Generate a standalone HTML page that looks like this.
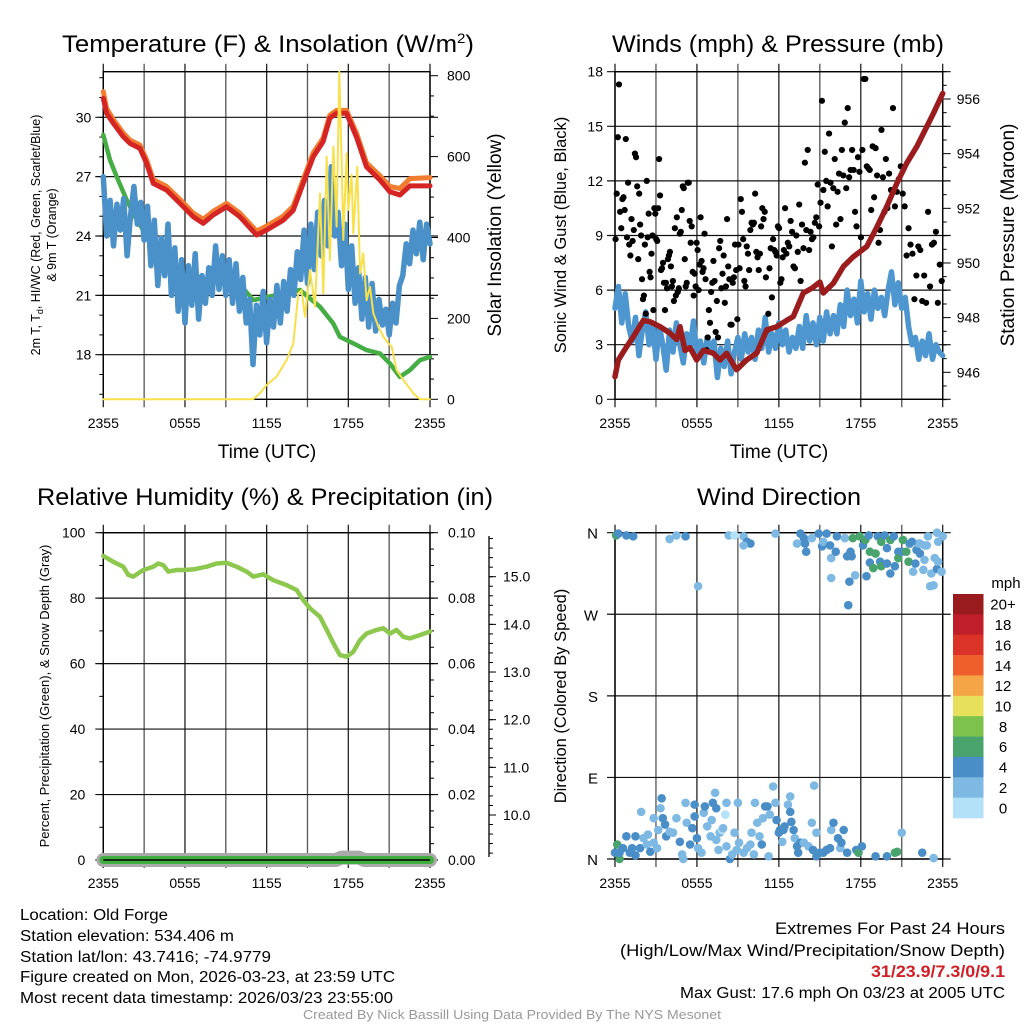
<!DOCTYPE html>
<html><head><meta charset="utf-8"><style>
html,body{margin:0;padding:0;background:#fff;}
svg{display:block;font-family:"Liberation Sans",Arial,sans-serif;}
</style></head><body>
<svg id="fig" width="1024" height="1024" viewBox="0 0 1024 1024"></svg>
<script>
// ---------- DATA ----------
// time is an index of 5-minute steps from 2355 (0) to 2355 next day (288)
const xTickLabels = ["2355","0555","1155","1755","2355"];
const tempT = [0,2.9,8.8,17.6,23.5,32.3,38.2,44.1,55.8,67.6,79.3,88.1,96.9,108.7,120.4,135.1,143.9,158.6,167.4,176.2,185,193.8,199.7,205.6,214.4,223.2,232,243.8,252.6,261.5,270.3,288];
const tempV = [30.96,30.2,29.7,29.02,28.68,28.43,27.67,26.66,26.32,25.65,24.97,24.64,25.06,25.48,24.97,24.05,24.3,24.8,25.3,26.66,28.0,28.77,29.95,30.2,30.2,29.0,27.5,26.83,26.24,26.07,26.53,26.53];
const temp9V = [31.3,30.45,29.9,29.2,28.85,28.6,27.85,26.85,26.5,25.85,25.15,24.85,25.25,25.65,25.15,24.25,24.5,25.0,25.5,26.85,28.2,28.95,30.1,30.35,30.35,29.2,27.7,27.05,26.5,26.4,26.9,26.95];
const dewT = [0,5.9,11.8,20.6,29.4,41.1,49.9,58.8,73.5,85.2,91.1,99.9,114.6,132.2,173.4,191,202.7,208.6,220.4,232.1,243.9,252.7,261.5,270.3,279.1,288];
const dewV = [29.11,27.84,27.0,25.82,24.81,23.79,23.29,22.78,21.77,21.94,21.77,22.78,21.94,20.76,21.27,20.42,19.58,18.9,18.57,18.23,18.06,17.55,16.88,17.22,17.72,17.89];
const chillStep = 3;
const chillV = [27.0,24.0,25.8,23.5,25.6,24.3,25.9,23.0,25.0,26.5,24.6,25.7,23.8,25.5,22.5,24.8,21.5,23.9,22.0,24.6,21.0,23.4,20.2,22.8,19.6,22.5,20.5,23.1,19.8,22.0,20.6,22.4,21.0,23.5,21.3,23.0,21.0,22.8,20.6,22.6,20.2,21.9,19.6,20.8,17.5,20.5,19.0,21.2,18.6,20.8,19.4,21.5,19.6,21.7,20.2,22.3,21.0,23.2,21.8,24.3,21.6,24.6,22.3,25.2,23.0,25.8,23.5,27.5,24.0,25.2,22.5,24.6,21.3,23.5,20.6,22.4,19.8,21.9,19.4,21.6,19.2,20.8,19.5,20.3,19.0,20.6,19.6,21.5,22.0,23.6,22.6,24.3,23.1,24.7,22.8,24.6,23.6];
const solarT = [0,132,138.1,143.9,152.8,161.6,167.5,171.9,174.8,177.8,182.2,186.6,191,193.9,196.9,199.8,202.8,205.7,208,210.1,211.6,214.5,216,218.9,220.4,223.9,226.3,229.2,232.1,235.1,238,242.4,246.8,251.3,254.2,258.6,264.5,273.3,279.2,288];
const solarV = [0,0,15,35,56,97,138,262,270,204,320,229,509,262,600,344,625,427,810,592,394,608,468,555,410,575,311,361,245,278,213,180,155,138,130,72,48,15,0,0];

const presT = [0,2.9,10.3,16.1,24.9,30.8,39.6,48.3,54.2,57.1,61.5,65.9,71.8,77.6,86.4,92.3,98.1,106.9,115.7,124.5,133.3,142.1,150.9,156.7,165.5,172.8,180.1,183.1,191.9,200.7,209.5,221.2,230,238.8,247.6,256.4,265.2,274,279.9,288];
const presV = [945.84,946.45,946.94,947.3,947.9,947.85,947.67,947.43,947.2,947.67,946.8,946.9,946.45,946.8,946.7,946.45,946.7,946.09,946.45,946.7,947.55,947.67,947.9,948.04,948.9,949.07,949.3,948.9,949.26,949.87,950.23,950.6,951.3,952.06,952.9,953.65,954.26,954.99,955.48,956.2];
const windStep = 3;
const windV = [5.0,6.2,4.2,5.8,4.0,3.2,4.5,2.4,3.8,4.8,3.0,4.2,2.2,4.0,3.0,1.6,3.8,2.6,4.2,3.0,2.0,3.6,2.8,4.3,2.4,3.2,2.0,3.4,2.6,3.2,1.2,2.8,1.8,3.2,1.4,2.6,3.4,2.2,3.6,2.6,3.4,2.2,3.8,2.8,4.5,2.6,3.6,2.8,4.2,3.0,3.8,2.6,3.4,2.8,4.0,2.8,4.6,3.2,4.2,3.0,4.5,3.2,4.8,3.6,4.6,3.6,5.2,4.0,6.0,4.6,5.5,4.2,6.5,4.8,5.8,4.4,6.0,5.0,5.6,4.6,6.0,7.0,5.2,6.4,5.0,5.6,4.0,3.0,3.4,2.2,3.2,2.4,3.6,2.2,3.0,2.6,2.4];
const gustStart = [0,20,40,80,110,150,200,240];
const gustEnd = [20,40,80,110,150,200,240,288];
const gustVals = [
 [8.8,11.3,14.4,17.3,10.3,9.4,11.0,11.1,10.4,14.3,8.9,11.9,8.5,7.9,9.9,8.7,9.3,13.5,13.3,11.7],
 [7.7,11.3,9.6,9.0,6.6,5.5,5.7,8.5,4.7,12.0,8.9,10.2,7.0,6.7,8.0,9.0,4.9,10.5,10.2,8.8,8.7,10.5,13.2,11.2],
 [7.1,7.2,7.5,6.4,4.9,6.4,6.1,7.7,7.9,8.1,7.3,6.2,6.5,5.4,9.4,5.7,10.0,5.9,6.1,9.1,9.2,10.4,11.7,11.6,7.7,6.2,6.4,11.9,11.9,9.8,8.6,9.5,7.0,5.7,6.9,6.2,8.6,8.2,6.0,7.4,10.0,7.6,7.0,7.2,9.1,6.6],
 [2.7,3.4,4.9,4.2,5.9,6.4,7.6,6.5,3.7,5.4,3.4,8.3,8.7,6.1,6.9,7.9,5.3,6.2,9.9,7.3,6.6,4.1,4.1,6.4,6.7,8.5,7.1,4.4,8.5,7.2],
 [11.0,10.3,8.8,6.5,6.2,8.4,8.0,7.1,9.3,9.7,9.6,9.7,11.3,8.1,7.8,7.1,8.0,9.5,10.5,9.9,10.3,6.7,3.8,4.7,7.2,8.3,5.6,8.8,8.2,8.1,7.9,9.5,9.4,6.4,6.6,7.8,8.2,10.5],
 [8.0,8.6,8.4,9.8,9.2,7.3,7.2,9.0,8.1,10.7,6.5,9.6,8.3,13.0,9.3,13.7,8.2,9.2,8.8,8.9,9.7,10.0,11.8,9.5,10.8,16.4,11.5,13.6,12.0,10.6,14.6,11.9,8.4,11.6,13.2,9.6,11.4,12.4,9.9,13.7],
 [12.3,15.2,11.6,16.0,12.2,12.6,13.7,12.6,10.3,9.5,13.3,12.5,8.9,13.7,17.6,17.6,12.8,12.7,12.6,10.4,13.9,11.1,13.8,12.3,8.6,9.3,14.8,12.2,10.3,13.2,10.5],
 [12.4,11.5,16.0,10.6,11.4,12.1,12.8,11.3,10.6,7.9,9.4,8.5,8.0,5.5,6.8,8.4,8.2,5.4,6.8,5.3,10.3,6.2,8.5,8.6,9.2,5.3,7.4,6.5]
];

const rhT = [0,8.8,17.6,22,26.4,35.3,44.1,48.5,52.9,57.3,64.7,70.5,79.3,91.1,99.9,108.7,117.5,126.3,132.2,141,149.9,161.6,170.4,176.3,182.2,191,196.9,202.8,208.6,214.5,220.4,226.3,232.1,241,246.8,252.7,258.6,264.5,270.3,279.1,288];
const rhV = [92.9,91.1,89.6,87.1,86.6,88.6,89.6,90.6,90.1,88.1,88.6,88.6,88.8,89.6,90.6,90.8,89.6,88.1,86.6,87.3,85.5,84.0,82.5,79.4,76.9,74.3,70.3,66.2,62.6,62.1,63.6,67.2,69.2,70.3,70.8,69.2,70.3,68.2,67.7,68.7,69.8];
const precipT = [0,288];
const precipV = [0,0];
const snowT = [0,205,210,218,225,230,288];
const snowV = [9.07,9.07,9.12,9.12,9.12,9.07,9.07];

const dirT = [1,3,10,16,48,54,62,73,100,105,113,116,119,113,141,160,163,166,167,168,173,179,182,183,186,189,190,190,195,194,202,204,207,208,206,205,211,209,215,218,220,223,221,224,224,227,229,231,233,234,234,237,239,239,242,242,245,246,249,249,252,253,256,258,259,262,264,265,267,268,271,272,274,275,277,278,280,281,283,284,284,283,287,288,261,268,272,
0,2,4,4,7,10,13,15,18,18,22,23,25,28,29,31,34,37,34,38,40,41,42,44,45,48,51,54,57,59,60,62,63,66,68,70,70,72,73,76,78,79,81,84,85,86,88,89,89,91,92,94,95,97,98,98,101,103,105,107,108,109,113,116,119,120,122,123,125,127,129,130,132,134,135,136,139,141,142,144,145,147,148,149,152,154,154,155,157,158,160,161,163,166,170,173,174,175,177,177,180,183,186,189,190,192,196,198,199,201,204,212,214,217,229,239,246,248,252,270,280];
const dirDeg = [357,359,357,356,353,357,356,301,357,357,356,350,348,346,359,348,359,354,348,339,354,359,345,350,359,346,332,310,356,339,354,334,339,334,306,280,313,354,356,346,352,357,312,339,327,321,337,356,328,323,350,357,343,326,352,315,356,323,339,332,339,352,339,328,348,317,326,341,348,337,319,330,346,356,301,315,302,332,320,350,328,360,317,356,350,348,346,
7,16,0,7,12,25,7,12,25,4,12,52,23,16,27,8,18,12,45,32,56,67,45,38,25,30,29,45,19,5,0,62,40,16,34,60,47,23,12,7,51,58,36,25,43,62,73,56,21,10,29,32,34,49,62,14,0,5,29,10,62,18,7,12,16,29,5,62,40,25,16,45,58,58,3,49,80,62,43,29,32,19,32,36,60,69,52,41,32,23,14,7,18,18,14,40,10,81,29,3,7,7,10,12,32,40,23,12,18,32,7,10,7,14,3,3,7,8,29,7,1];
const dirSpd = [7,5,5,5,3,3,5,3,3,1,3,5,5,3,3,3,5,5,5,5,3,5,5,3,5,5,3,3,5,5,3,5,5,5,5,5,3,7,7,5,7,5,5,7,5,7,7,5,5,7,7,5,5,5,7,5,5,5,5,7,5,7,7,7,5,3,5,5,3,5,3,3,3,3,3,3,3,3,5,3,3,3,3,3,5,3,3,
5,7,7,5,5,5,5,5,5,5,5,3,3,3,3,5,3,3,3,3,3,5,5,5,5,3,3,3,5,3,3,3,3,5,5,5,5,5,3,3,3,5,3,3,3,5,3,5,3,3,3,1,3,1,3,3,5,3,3,3,3,3,3,3,3,3,3,3,3,3,5,3,5,5,3,3,3,3,5,5,5,3,5,5,3,3,5,5,5,3,5,5,5,3,3,3,5,3,3,5,5,5,5,5,3,5,5,3,5,5,5,5,7,5,5,5,7,7,3,5,3];
const cbLabels = ["20+","18","16","14","12","10","8","6","4","2","0"];
const cbColors = ["#9a1b1e","#bf1e2a","#dc3328","#ef5f2c","#f5a545","#e6e05b","#7cc24b","#48a46c","#4a8ec8","#7db9e3","#b3e1f7"];

// ---------- RENDER ----------
const NS = "http://www.w3.org/2000/svg";
const svg = document.getElementById("fig");
function el(tag, attrs, parent) {
  const e = document.createElementNS(NS, tag);
  for (const k in attrs) e.setAttribute(k, attrs[k]);
  (parent || svg).appendChild(e);
  return e;
}
function txt(s, x, y, size, anchor, parent, extra) {
  const t = el("text", Object.assign({x:x, y:y, "font-size":size, "text-anchor":anchor||"middle", fill:"#000"}, extra||{}), parent);
  t.textContent = s;
  return t;
}
function lin(a, b, c, d) { return v => c + (v - a) / (b - a) * (d - c); }
function pathFrom(ts, vs, xs, ys) {
  return vs.map((v, i) => (i ? "L" : "M") + xs(ts[i]).toFixed(1) + "," + ys(v).toFixed(1)).join("");
}
function panel(name) {
  const g = el("g", {});
  
  
  return g;
}
function frameAndGrid(g, x0, x1, y0, y1, hy) {
  for (let i = 0; i <= 8; i++) {
    const x = x0 + (x1 - x0) * i / 8;
    el("line", {x1:x, y1:y0 - 8, x2:x, y2:y1 + 8, stroke: i%2 ? "#555" : "#222", "stroke-width":1.3}, g);
  }
  hy.forEach(y => el("line", {x1:x0 - 8, y1:y, x2:x1 + 8, y2:y, stroke:"#111", "stroke-width":1.2}, g));
  el("rect", {x:x0, y:y0, width:x1 - x0, height:y1 - y0, fill:"none", stroke:"#000", "stroke-width":1.4}, g);
}
function xTicks(g, x0, x1, y) {
  xTickLabels.forEach((s, i) => {
    const t = txt(s, x0 + (x1 - x0) * i / 4, y, 14, "middle", g);
    
    
  });
}
function poly(g, d, color, w, name) {
  const p = el("path", {d:d, fill:"none", stroke:color, "stroke-width":w, "stroke-linejoin":"round", "stroke-linecap":"round"}, g);
  
  
  return p;
}

// ---- Panel 1: temperature ----
(function(){
  const x0=103.3, x1=430, y0=71.7, y1=399.3;
  const g = panel("temperature-panel");
  const xs = lin(0, 288, x0, x1);
  const ys = lin(18, 30, 354.7, 117.3);
  const ysol = lin(0, 800, 399.3, 75.7);
  const ticksT = [18,21,24,27,30];
  frameAndGrid(g, x0, x1, y0, y1, ticksT.map(ys));
  for (let v = 16; v <= 32; v++) el("line", {x1:x0-4, y1:ys(v), x2:x0, y2:ys(v), stroke:"#000"}, g);
  ticksT.forEach(v => { const t = txt(String(v), x0 - 12, ys(v) + 5, 14, "end", g);   });
  for (let v = 0; v <= 800; v += 50) el("line", {x1:x1, y1:ysol(v), x2:x1 + (v%200?4:8), y2:ysol(v), stroke:"#000"}, g);
  [0,200,400,600,800].forEach(v => { const t = txt(String(v), x1 + 17, ysol(v) + 5, 14, "start", g);   });
  xTicks(g, x0, x1, 428);
  const chillT = chillV.map((v, i) => i * chillStep);
  poly(g, pathFrom(dewT, dewV, xs, ys), "#44ad44", 4.5, "dewpoint-line");
  poly(g, pathFrom(chillT, chillV, xs, ys), "#4a90c9", 5.5, "windchill-line");
  poly(g, pathFrom(tempT, temp9V, xs, ys), "#f27d30", 5, "temp-9m-line");
  poly(g, pathFrom(tempT, tempV, xs, ys), "#d42424", 5, "temp-2m-line");
  poly(g, pathFrom(solarT, solarV, xs, ysol), "#f7e04b", 2, "solar-line");
  const t1 = el("text", {x:62, y:52, "font-size":24, "text-anchor":"start", textLength:412, lengthAdjust:"spacingAndGlyphs"}, g);
  t1.innerHTML = 'Temperature (F) &amp; Insolation (W/m<tspan dy="-9" font-size="14">2</tspan><tspan dy="9">)</tspan>';
   
  const xl = txt("Time (UTC)", 267, 458, 19, "middle", g);  
  const yl = el("text", {transform:"translate(40,235) rotate(-90)", "font-size":12.5, "text-anchor":"middle"}, g);
  yl.innerHTML = '2m T, T<tspan dy="3" font-size="9">d</tspan><tspan dy="-3">, HI/WC (Red, Green, Scarlet/Blue)</tspan>';
   
  const yl2 = txt("& 9m T (Orange)", 0, 0, 12.5, "middle", g, {transform:"translate(56,235) rotate(-90)"});  
  const yr = txt("Solar Insolation (Yellow)", 0, 0, 19, "middle", g, {transform:"translate(501,235) rotate(-90)"});  
})();

// ---- Panel 2: winds & pressure ----
(function(){
  const x0=615, x1=942.7, y0=71.7, y1=399.3;
  const g = panel("winds-panel");
  const xs = lin(0, 288, x0, x1);
  const ys = lin(0, 18, 399.3, 71.7);
  const yp = lin(946, 956, 372.3, 99);
  const ticks = [0,3,6,9,12,15,18];
  frameAndGrid(g, x0, x1, y0, y1, ticks.map(ys));
  ticks.forEach(v => { const t = txt(String(v), x0 - 12, ys(v) + 5, 14, "end", g);   });
  for (let v = 945; v <= 957; v += 0.5) el("line", {x1:x1, y1:yp(v), x2:x1 + (v%2===0?8:4), y2:yp(v), stroke:"#000"}, g);
  [946,948,950,952,954,956].forEach(v => { const t = txt(String(v), x1 + 14, yp(v) + 5, 14, "start", g);   });
  xTicks(g, x0, x1, 428);
  const wT = windV.map((v, i) => i * windStep);
  poly(g, pathFrom(wT, windV, xs, ys), "#4d96d0", 5.5, "sonic-wind-line");
  gustVals.forEach((arr, s) => {
    arr.forEach((v, i) => {
      const t = gustStart[s] + (gustEnd[s] - gustStart[s]) * (i + 0.5) / arr.length;
      const c = el("circle", {cx:xs(t), cy:ys(v), r:3.1, fill:"#000"}, g);
      
      
    });
  });
  poly(g, pathFrom(presT, presV, xs, yp), "#9b1c1c", 5.5, "pressure-line");
  const t1 = txt("Winds (mph) & Pressure (mb)", 612, 52, 24, "start", g, {textLength:332, lengthAdjust:"spacingAndGlyphs"});  
  const xl = txt("Time (UTC)", 779, 458, 19, "middle", g);  
  const yl = txt("Sonic Wind & Gust (Blue, Black)", 0, 0, 16.5, "middle", g, {transform:"translate(566,235) rotate(-90)"});  
  const yr = txt("Station Pressure (Maroon)", 0, 0, 19, "middle", g, {transform:"translate(1014,235) rotate(-90)"});  
})();

// ---- Panel 3: RH & precipitation ----
(function(){
  const x0=103.3, x1=430, y0=532.7, y1=860;
  const g = panel("humidity-panel");
  const xs = lin(0, 288, x0, x1);
  const ys = lin(0, 100, 860, 532.7);
  const ypr = lin(0, 0.1, 860, 532.7);
  const ysn = lin(10, 15, 815, 576.7);
  const ticks = [0,20,40,60,80,100];
  frameAndGrid(g, x0, x1, y0, y1, ticks.map(ys));
  for (let v = 0; v <= 100; v += 10) el("line", {x1:x0-4, y1:ys(v), x2:x0, y2:ys(v), stroke:"#000"}, g);
  ticks.forEach(v => { const t = txt(String(v), x0 - 18, ys(v) + 5, 14, "end", g);   });
  for (let i = 0; i <= 20; i++) el("line", {x1:x1, y1:ypr(i*0.005), x2:x1 + 4, y2:ypr(i*0.005), stroke:"#000"}, g);
  [0,0.02,0.04,0.06,0.08,0.1].forEach(v => { const t = txt(v.toFixed(2), x1 + 18, ypr(v) + 5, 14, "start", g);   });
  el("line", {x1:489, y1:536, x2:489, y2:857, stroke:"#000", "stroke-width":1.3}, g);
  for (let v = 9.2; v <= 15.9; v += 0.2) el("line", {x1:489, y1:ysn(v), x2:493, y2:ysn(v), stroke:"#000"}, g);
  [10,11,12,13,14,15].forEach(v => {
    el("line", {x1:489, y1:ysn(v), x2:496, y2:ysn(v), stroke:"#000"}, g);
    const t = txt(v.toFixed(1), 503, ysn(v) + 5, 14, "start", g);  
  });
  xTicks(g, x0, x1, 888);
  poly(g, pathFrom(rhT, rhV, xs, ys), "#8dc84e", 4.5, "rh-line");
  const ysn2 = lin(9.07, 10, 860, 815.7);
  poly(g, pathFrom(snowT, snowV, xs, ysn2), "#aaaaaa", 14, "snow-depth-line");
  poly(g, pathFrom(precipT, precipV, xs, ypr), "#3fae3f", 8, "precip-line");
  el("line", {x1:x0, y1:860, x2:x1, y2:860, stroke:"#000", "stroke-width":1.4}, g);
  const t1 = txt("Relative Humidity (%) & Precipitation (in)", 37, 505, 24, "start", g, {textLength:456, lengthAdjust:"spacingAndGlyphs"});  
  const yl = txt("Percent, Precipitation (Green), & Snow Depth (Gray)", 0, 0, 13, "middle", g, {transform:"translate(49,696) rotate(-90)"});  
})();

// ---- Panel 4: wind direction ----
(function(){
  const x0=615, x1=942.7, y0=532.7, y1=859;
  const g = panel("wind-direction-panel");
  const xs = lin(0, 288, x0, x1);
  const ys = lin(0, 360, 859, 532.7);
  const dirs = [[0,"N"],[90,"E"],[180,"S"],[270,"W"],[360,"N"]];
  frameAndGrid(g, x0, x1, y0, y1, dirs.map(d => ys(d[0])));
  dirs.forEach(d => { const t = txt(d[1], x0 - 17, ys(d[0]) + 6, 15, "end", g);   });
  xTicks(g, x0, x1, 888);
  dirT.forEach((t, i) => {
    const bin = Math.min(10, Math.floor(dirSpd[i] / 2));
    const c = el("circle", {cx:xs(t), cy:ys(dirDeg[i]), r:4.3, fill:cbColors[10 - bin]}, g);
    
    
  });
  const t1 = txt("Wind Direction", 697, 505, 24, "start", g, {textLength:164, lengthAdjust:"spacingAndGlyphs"});  
  const yl = txt("Direction (Colored By Speed)", 0, 0, 16.5, "middle", g, {transform:"translate(566,696) rotate(-90)"});  
  const cb = el("g", {}, g);
  
  
  const h = (818 - 594) / cbColors.length;
  cbColors.forEach((c, i) => {
    el("rect", {x:953, y:594 + i*h, width:30.5, height:h + 0.3, fill:c}, cb);
    const t = txt(cbLabels[i], 1003, 594 + i*h + h/2 + 5.5, 15, "middle", cb);
    
    
  });
  const m = txt("mph", 1006, 588, 15, "middle", cb);  
})();

// ---- Footer ----
(function(){
  const g = el("g", {});
  
  
  const left = [["Location: Old Forge",920,148],["Station elevation: 534.406 m",941,214],["Station lat/lon: 43.7416; -74.9779",962,251],["Figure created on Mon, 2026-03-23, at 23:59 UTC",982,375],["Most recent data timestamp: 2026/03/23 23:55:00",1003,373]];
  left.forEach(l => { const t = txt(l[0], 20, l[1], 15.5, "start", g, {textLength:l[2], lengthAdjust:"spacingAndGlyphs"});   });
  const r1 = txt("Extremes For Past 24 Hours", 775, 934, 16.5, "start", g, {textLength:230, lengthAdjust:"spacingAndGlyphs"});  
  const r2 = txt("(High/Low/Max Wind/Precipitation/Snow Depth)", 620, 956, 16.5, "start", g, {textLength:385, lengthAdjust:"spacingAndGlyphs"});  
  const r3 = txt("31/23.9/7.3/0/9.1", 871, 977, 16.5, "start", g, {textLength:134, lengthAdjust:"spacingAndGlyphs", fill:"#d01f26", "font-weight":"bold"});  
  const r4 = txt("Max Gust: 17.6 mph On 03/23 at 2005 UTC", 680, 998, 15.5, "start", g, {textLength:325, lengthAdjust:"spacingAndGlyphs"});  
  const c = txt("Created By Nick Bassill Using Data Provided By The NYS Mesonet", 512, 1019, 12.5, "middle", g, {fill:"#999", textLength:418, lengthAdjust:"spacingAndGlyphs"});  
})();
</script>
</body></html>
